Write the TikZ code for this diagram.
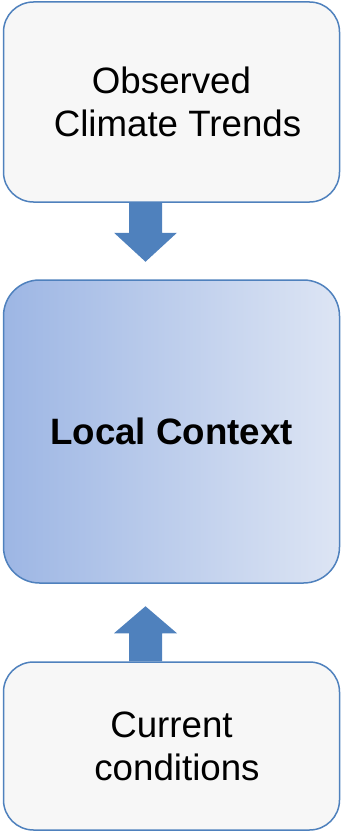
\documentclass[tikz,border=0pt]{standalone}
\usepackage{fontspec}
\setmainfont{Liberation Sans}
\usetikzlibrary{calc}
\definecolor{boxline}{HTML}{4F81BD}
\definecolor{boxgrey}{HTML}{F7F7F7}
\definecolor{gradleft}{HTML}{9DB6E4}
\definecolor{gradright}{HTML}{DDE5F4}
\definecolor{arrowblue}{HTML}{4F81BD}
\tikzset{
  panel/.style={draw=boxline, line width=1.5pt, rectangle, inner sep=0pt,
    minimum width=336pt, align=center, font=\fontsize{36.7}{43}\selectfont},
  greypanel/.style={panel, fill=boxgrey, rounded corners=30pt},
  bluepanel/.style={panel, left color=gradleft, right color=gradright, rounded corners=36pt},
  blockarrow/.style={fill=arrowblue, draw=none}
}
\begin{document}
\begin{tikzpicture}[x=1pt,y=1pt]
\useasboundingbox (0,0) rectangle (341,-832);
\node[greypanel, minimum height=200pt] (top) at (171.5,-102) {Observed\\\hspace*{12pt}Climate Trends};
\node[bluepanel, minimum height=303pt] (mid) at (171.5,-431.5) {\textbf{Local Context}};
\node[greypanel, minimum height=168pt] (bot) at (171.5,-746) {Current\\\hspace*{11pt}conditions};
% down arrow from top to mid
\coordinate (dbase) at ($(top.south)+(-26,0)$);
\coordinate (dtip) at ($(dbase)+(0,-59)$);
\fill[blockarrow] ($(dbase)+(-16.5,0)$) -- ($(dbase)+(16.5,0)$)
  -- ($(dtip)+(16.5,29)$) -- ($(dtip)+(31.5,29)$) -- (dtip)
  -- ($(dtip)+(-31.5,29)$) -- ($(dtip)+(-16.5,29)$) -- cycle;
% up arrow from bot to mid
\coordinate (ubase) at ($(bot.north)+(-26,0)$);
\coordinate (utip) at ($(ubase)+(0,55)$);
\fill[blockarrow] ($(ubase)+(-16.5,0)$) -- ($(ubase)+(16.5,0)$)
  -- ($(utip)+(16.5,-27)$) -- ($(utip)+(31.5,-27)$) -- (utip)
  -- ($(utip)+(-31.5,-27)$) -- ($(utip)+(-16.5,-27)$) -- cycle;
\end{tikzpicture}
\end{document}
